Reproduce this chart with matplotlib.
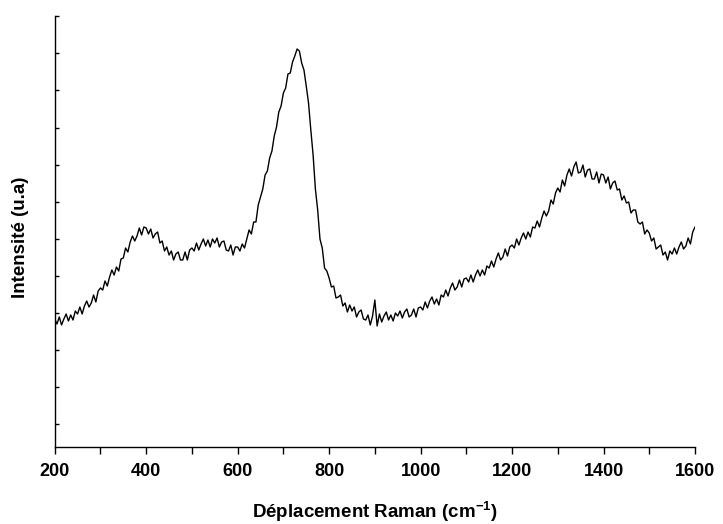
import numpy as np
import matplotlib.pyplot as plt

plt.rcParams['font.family'] = ['Liberation Sans', 'DejaVu Sans']
plt.rcParams['mathtext.fontset'] = 'custom'
plt.rcParams['mathtext.bf'] = 'Liberation Sans:bold'
plt.rcParams['mathtext.rm'] = 'Liberation Sans:bold'

# Raman shift (cm-1), step 5
shift = np.arange(200, 1601, 5)

# intensity (arbitrary units)
intensity = [
    113, 108, 115, 107, 113, 118, 111, 117, 112, 121,   # 200-245
    118, 125, 118, 126, 131, 125, 129, 137, 130, 141,   # 250-295
    144, 142, 151, 146, 155, 162, 157, 165, 161, 173,   # 300-345
    174, 184, 180, 190, 196, 191, 196, 204, 197, 205,   # 350-395
    204, 198, 203, 194, 198, 200, 189, 191, 181, 185,   # 400-445
    177, 181, 172, 178, 180, 172, 172, 180, 172, 182,   # 450-495
    184, 181, 189, 182, 188, 193, 186, 192, 185, 193,   # 500-545
    189, 194, 185, 190, 191, 182, 181, 187, 177, 185,   # 550-595
    185, 181, 188, 184, 193, 202, 198, 210, 210, 227,   # 600-645
    235, 243, 257, 261, 274, 281, 296, 305, 320, 326,   # 650-695
    339, 344, 358, 359, 370, 376, 383, 381, 369, 362,   # 700-745
    346, 329, 302, 277, 243, 222, 193, 184, 164, 161,   # 750-795
    154, 145, 146, 134, 135, 137, 126, 129, 120, 127,   # 800-845
    121, 125, 115, 120, 122, 113, 112, 117, 107, 116,   # 850-895
    132, 106, 118, 110, 116, 120, 112, 117, 111, 119,   # 900-945
    116, 121, 114, 120, 123, 115, 117, 123, 115, 124,   # 950-995
    125, 122, 130, 124, 131, 135, 128, 133, 127, 137,   # 1000-1045
    135, 142, 136, 144, 149, 142, 145, 152, 145, 153,   # 1050-1095
    154, 150, 157, 150, 157, 162, 156, 162, 157, 166,   # 1100-1145
    164, 171, 165, 173, 179, 172, 175, 183, 176, 185,   # 1150-1195
    187, 184, 193, 187, 194, 199, 193, 200, 195, 205,   # 1200-1245
    204, 211, 205, 214, 221, 216, 221, 232, 228, 239,   # 1250-1295
    244, 240, 252, 246, 257, 263, 256, 265, 270, 259,   # 1300-1345
    260, 267, 255, 262, 263, 253, 253, 260, 249, 258,   # 1350-1395
    257, 249, 255, 243, 249, 251, 242, 243, 232, 236,   # 1400-1445
    229, 230, 219, 222, 222, 210, 208, 210, 198, 202,   # 1450-1495
    199, 191, 194, 183, 185, 187, 177, 180, 172, 181,   # 1500-1545
    178, 184, 178, 185, 190, 183, 186, 194, 188, 200,   # 1550-1595
    205,                                                # 1600
]

fig = plt.figure(figsize=(7.23, 5.24), dpi=100)
ax = fig.add_axes([54.7/723, 1 - 446.7/524, 640.3/723, 430.7/524])

ax.plot(shift, intensity, color='black', lw=1.0)

ax.set_xlim(200, 1600)
ax.set_ylim(-14.7, 416)
ax.set_xticks(np.arange(200, 1601, 200))
ax.set_xticks(np.arange(300, 1600, 200), minor=True)
ax.set_yticks(np.linspace(7.7, 415.8, 12))
ax.set_yticklabels([])

ax.spines['top'].set_visible(False)
ax.spines['right'].set_visible(False)
ax.spines['left'].set_linewidth(1.0)
ax.spines['bottom'].set_linewidth(1.0)

ax.tick_params(axis='x', which='both', direction='out', length=5, width=1,
               labelsize=13, pad=7)
ax.tick_params(axis='y', direction='in', length=3, width=1)
for lab in ax.get_xticklabels():
    lab.set_fontweight('bold')

ax.set_xlabel('Déplacement Raman (cm$^{\\mathbf{-1}}$)', fontsize=13.5,
              fontweight='bold')
ax.xaxis.set_label_coords(0.5, -0.122)
ax.set_ylabel('Intensité (u.a)', fontsize=13.5, fontweight='bold')
ax.yaxis.set_label_coords(-0.04, 0.485)

fig.savefig('out.png', dpi=100)
